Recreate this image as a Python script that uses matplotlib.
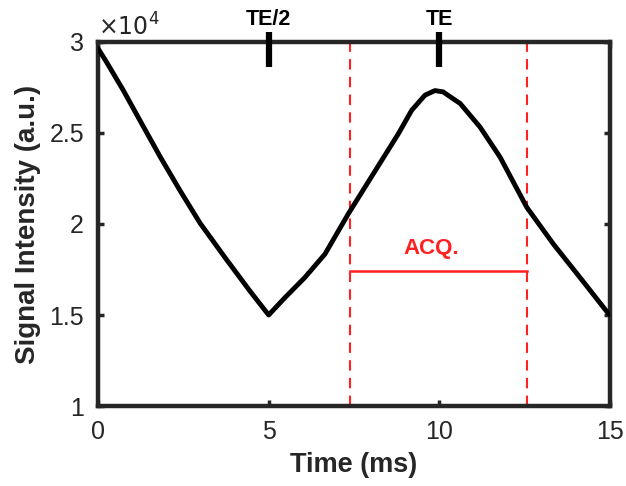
import numpy as np
import matplotlib.pyplot as plt

plt.rcParams['font.family'] = ['Liberation Sans', 'DejaVu Sans']

# signal curve
time_ms = [0.0, 0.25, 0.74, 1.28, 1.82, 2.40, 2.99, 3.72, 4.45, 5.0,
           5.48, 6.06, 6.65, 7.33, 7.82, 8.31, 8.80, 9.19, 9.58, 9.87,
           10.11, 10.31, 10.61, 11.19, 11.78, 12.56, 13.34, 14.12, 14.90, 15.0]
signal = [29650, 28900, 27350, 25520, 23700, 21850, 20050, 18160, 16320, 15000,
          15960, 17060, 18350, 20550, 22020, 23490, 24960, 26250, 27080, 27330,
          27260, 27000, 26620, 25330, 23670, 20920, 18900, 17060, 15200, 15000]

# acquisition window and echo markers
acq_start, acq_end = 7.38, 12.56
acq_level = 17400
echo_times = [5, 10]
echo_labels = ['TE/2', 'TE']

gray = '#262626'
red = '#ff2020'

fig = plt.figure(figsize=(6.26, 4.86), dpi=100)
ax = fig.add_axes([0.1565, 0.1646, 0.818, 0.749])

ax.plot(time_ms, signal, color='black', lw=3.5, solid_capstyle='round',
        solid_joinstyle='round', zorder=3)

for x in (acq_start, acq_end):
    ax.axvline(x, color=red, lw=1.5, ls=(0, (5, 3.5)), zorder=2)
ax.plot([acq_start, acq_end], [acq_level, acq_level], color=red, lw=1.8, zorder=2)
ax.text((acq_start + acq_end) / 2 - 0.2, acq_level + 650, 'ACQ.', color=red,
        fontsize=16, fontweight='bold', ha='center', va='bottom')

for t, lab in zip(echo_times, echo_labels):
    ax.plot([t, t], [28600, 30550], color='black', lw=4.5, solid_capstyle='butt',
            clip_on=False, zorder=5)
    ax.text(t, 30650, lab, fontsize=15.5, fontweight='bold', ha='center', va='bottom')

ax.set_xlim(0, 15)
ax.set_ylim(10000, 30000)
ax.set_xticks([0, 5, 10, 15])
ax.set_yticks([10000, 15000, 20000, 25000, 30000])
ax.set_yticklabels(['1', '1.5', '2', '2.5', '3'])
ax.tick_params(direction='in', length=4, width=2.5, colors=gray, labelsize=18,
               top=True, right=True)
ax.tick_params(axis='x', pad=10)
ax.tick_params(axis='y', pad=10)
for s in ax.spines.values():
    s.set_linewidth(3.2)
    s.set_color(gray)

ax.text(0.0, 1.005, r'$\times10^{4}$', transform=ax.transAxes, fontsize=17,
        color=gray, ha='left', va='bottom', family=['DejaVu Sans'])

ax.set_xlabel('Time (ms)', fontsize=19.5, fontweight='bold', color=gray, labelpad=6)
ax.set_ylabel('Signal Intensity (a.u.)', fontsize=20, fontweight='bold', color=gray,
              labelpad=6)

fig.savefig('out.png', dpi=100)
